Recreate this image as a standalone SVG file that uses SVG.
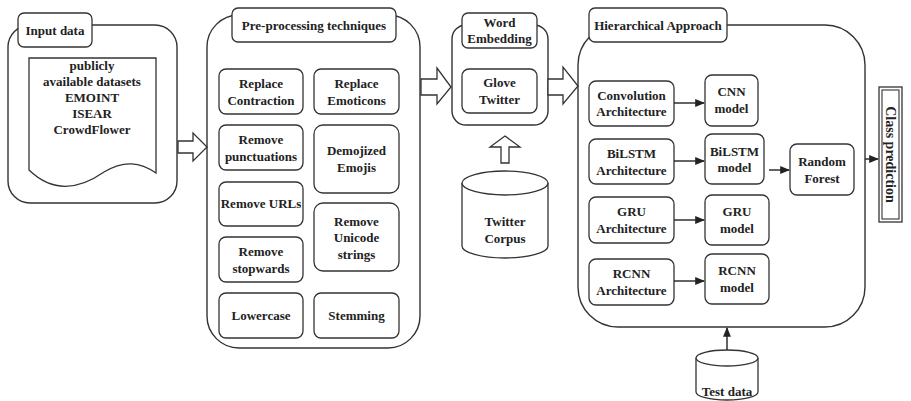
<svg xmlns="http://www.w3.org/2000/svg" width="911" height="401" viewBox="0 0 911 401">
<defs>
<style>
.c{fill:#fff;stroke:#333;stroke-width:1.4}
.b{fill:#fff;stroke:#333;stroke-width:1.3}
.t{font-family:"Liberation Serif","Times New Roman",serif;font-size:13px;font-weight:bold;fill:#222;text-anchor:middle}
.ln{stroke:#222;stroke-width:1.4;fill:none}
</style>
<marker id="ah" viewBox="0 0 10 10" refX="9" refY="5" markerWidth="7" markerHeight="7" orient="auto">
<path d="M0,1 L10,5 L0,9 Z" fill="#222"/>
</marker>
</defs>
<rect width="911" height="401" fill="#fff"/>

<g id="input-data">
<rect class="c" x="8" y="25" width="169" height="178" rx="22"/>
<rect class="b" x="18" y="13" width="74" height="34" rx="6"/>
<text class="t" x="55" y="35">Input data</text>
<path class="b" d="M29,58 H156 V173 C140,162 124,160 104,172 C84,186 56,196 29,170 Z"/>
<text class="t" x="92" y="70">publicly</text>
<text class="t" x="92" y="86">available datasets</text>
<text class="t" x="92" y="102">EMOINT</text>
<text class="t" x="92" y="118">ISEAR</text>
<text class="t" x="92" y="134">CrowdFlower</text>
</g>

<g id="preprocessing">
<rect class="c" x="207" y="15" width="213" height="333" rx="32"/>
<rect class="b" x="232" y="8" width="164" height="34" rx="6"/>
<text class="t" x="314" y="30">Pre-processing techniques</text>
</g>
<g id="replace-contraction"><rect class="b" x="219" y="69" width="84" height="45" rx="7"/><text class="t" x="261" y="88">Replace</text><text class="t" x="261" y="105">Contraction</text></g>
<g id="replace-emoticons"><rect class="b" x="314" y="69" width="85" height="45" rx="7"/><text class="t" x="356.5" y="88">Replace</text><text class="t" x="356.5" y="105">Emoticons</text></g>
<g id="remove-punctuations"><rect class="b" x="219" y="125" width="84" height="45" rx="7"/><text class="t" x="261" y="144">Remove</text><text class="t" x="261" y="161">punctuations</text></g>
<g id="demojized-emojis"><rect class="b" x="314" y="125" width="85" height="68" rx="9"/><text class="t" x="356.5" y="155">Demojized</text><text class="t" x="356.5" y="172">Emojis</text></g>
<g id="remove-urls"><rect class="b" x="219" y="182" width="84" height="44" rx="7"/><text class="t" x="261" y="208">Remove URLs</text></g>
<g id="remove-unicode"><rect class="b" x="314" y="203" width="85" height="68" rx="9"/><text class="t" x="356.5" y="226">Remove</text><text class="t" x="356.5" y="242">Unicode</text><text class="t" x="356.5" y="259">strings</text></g>
<g id="remove-stopwards"><rect class="b" x="219" y="237" width="84" height="45" rx="7"/><text class="t" x="261" y="256">Remove</text><text class="t" x="261" y="273">stopwards</text></g>
<g id="lowercase"><rect class="b" x="219" y="293" width="84" height="45" rx="7"/><text class="t" x="261" y="320">Lowercase</text></g>
<g id="stemming"><rect class="b" x="314" y="293" width="85" height="45" rx="7"/><text class="t" x="356.5" y="320">Stemming</text></g>

<g id="word-embedding">
<rect class="c" x="452" y="25" width="96" height="100" rx="14"/>
<rect class="b" x="462" y="13" width="75" height="35" rx="6"/>
<text class="t" x="499.5" y="27">Word</text>
<text class="t" x="499.5" y="43">Embedding</text>
</g>
<g id="glove-twitter"><rect class="b" x="462" y="69" width="75" height="44" rx="7"/><text class="t" x="499.5" y="87">Glove</text><text class="t" x="499.5" y="104">Twitter</text></g>

<g id="twitter-corpus">
<path class="b" d="M462,183 V246 A43,12 0 0 0 548,246 V183"/>
<ellipse class="b" cx="505" cy="183" rx="43" ry="12"/>
<text class="t" x="505" y="226">Twitter</text>
<text class="t" x="505" y="243">Corpus</text>
</g>

<g id="hierarchical">
<rect class="c" x="578" y="25" width="287" height="302" rx="40"/>
<rect class="b" x="589" y="8" width="138" height="34" rx="6"/>
<text class="t" x="658" y="30">Hierarchical Approach</text>
</g>
<g id="conv-arch"><rect class="b" x="589" y="81" width="85" height="45" rx="7"/><text class="t" x="631.5" y="100">Convolution</text><text class="t" x="631.5" y="116">Architecture</text></g>
<g id="cnn-model"><rect class="b" x="705" y="75" width="53" height="51" rx="7"/><text class="t" x="731.5" y="96">CNN</text><text class="t" x="731.5" y="113">model</text></g>
<g id="bilstm-arch"><rect class="b" x="589" y="139" width="85" height="45" rx="7"/><text class="t" x="631.5" y="158">BiLSTM</text><text class="t" x="631.5" y="175">Architecture</text></g>
<g id="bilstm-model"><rect class="b" x="705" y="134" width="59" height="50" rx="7"/><text class="t" x="734.5" y="156">BiLSTM</text><text class="t" x="734.5" y="172">model</text></g>
<g id="random-forest"><rect class="b" x="790" y="144" width="64" height="51" rx="7"/><text class="t" x="822" y="166">Random</text><text class="t" x="822" y="183">Forest</text></g>
<g id="gru-arch"><rect class="b" x="589" y="197" width="85" height="46" rx="7"/><text class="t" x="631.5" y="216">GRU</text><text class="t" x="631.5" y="233">Architecture</text></g>
<g id="gru-model"><rect class="b" x="705" y="195" width="64" height="50" rx="7"/><text class="t" x="737" y="216">GRU</text><text class="t" x="737" y="233">model</text></g>
<g id="rcnn-arch"><rect class="b" x="589" y="259" width="85" height="46" rx="7"/><text class="t" x="631.5" y="278">RCNN</text><text class="t" x="631.5" y="295">Architecture</text></g>
<g id="rcnn-model"><rect class="b" x="705" y="254" width="64" height="50" rx="7"/><text class="t" x="737" y="275">RCNN</text><text class="t" x="737" y="292">model</text></g>

<g id="test-data">
<path class="b" d="M696,358 V392 A31,8 0 0 0 758,392 V358"/>
<ellipse class="b" cx="727" cy="358" rx="31" ry="8"/>
<text class="t" x="727" y="396">Test data</text>
</g>

<g id="class-prediction">
<rect x="879" y="87" width="23" height="135" fill="#fff" stroke="#333" stroke-width="1.3"/>
<rect x="882" y="90" width="17" height="129" fill="none" stroke="#333" stroke-width="1.1"/>
<text class="t" transform="translate(890.5,154.5) rotate(90)" x="0" y="5" style="font-size:14px">Class prediction</text>
</g>

<g id="connectors">
<polygon class="b" points="178,141 193,141 193,133 207,147 193,161 193,153 178,153"/>
<polygon class="b" points="421,79 437,79 437,68 451,87 437,104 437,95 421,95"/>
<polygon class="b" points="548,79 563,79 563,67 578,86 563,104 563,95 548,95"/>
<polygon class="b" points="501,163 501,147 490,147 505,136 520,147 509,147 509,163"/>
<line class="ln" x1="674" y1="103" x2="704" y2="103" marker-end="url(#ah)"/>
<line class="ln" x1="674" y1="161" x2="704" y2="161" marker-end="url(#ah)"/>
<line class="ln" x1="674" y1="220" x2="704" y2="220" marker-end="url(#ah)"/>
<line class="ln" x1="674" y1="281" x2="704" y2="281" marker-end="url(#ah)"/>
<line class="ln" x1="769" y1="170" x2="789" y2="170" marker-end="url(#ah)"/>
<line class="ln" x1="865" y1="159" x2="878" y2="159" marker-end="url(#ah)"/>
<line class="ln" x1="727" y1="350" x2="727" y2="328" marker-end="url(#ah)"/>
</g>
</svg>
